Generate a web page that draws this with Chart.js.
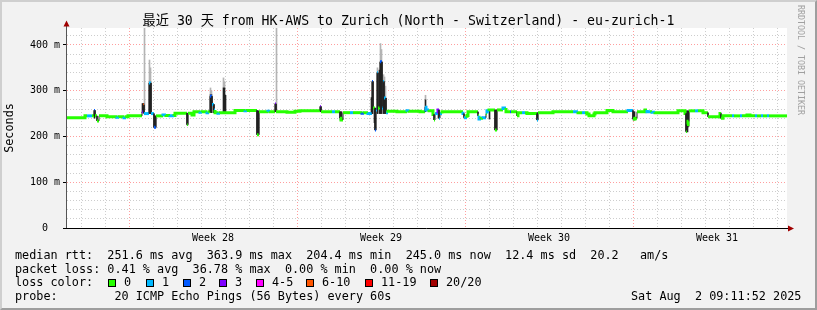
<!DOCTYPE html>
<html>
<head>
<meta charset="utf-8">
<script src="https://cdn.jsdelivr.net/npm/chart.js@4.4.1/dist/chart.umd.min.js"></script>
<style>
  html, body { margin: 0; padding: 0; background: #f2f2f2; }
  #wrap { position: relative; width: 817px; height: 310px; background: #f2f2f2; overflow: hidden;
          font-family: "DejaVu Sans Mono", monospace; color: #000; }
  #wrap canvas { position: absolute; left: 0; top: 0; }
  .frame { position: absolute; left: 0; top: 0; width: 813px; height: 306px; pointer-events: none;
           border-left: 2px solid #cfcfcf; border-top: 2px solid #cfcfcf;
           border-right: 2px solid #9e9e9e; border-bottom: 2px solid #9e9e9e; }
  .title { position: absolute; left: 0; top: 13px; width: 817px; text-align: center; white-space: pre;
           font-size: 13.2px; line-height: 16px; font-family: "DejaVu Sans Mono", "Noto Sans CJK SC", monospace; }
  .row { position: absolute; left: 15px; font-size: 11.8px; line-height: 14px; white-space: pre; }
  .lab { position: absolute; font-size: 11.8px; line-height: 14px; white-space: pre; top: 275px; }
  .box { position: absolute; top: 279px; width: 6px; height: 6px; border: 1px solid #000; }
  .rrd { position: absolute; left: 796px; top: 5px; writing-mode: vertical-rl; font-size: 8.3px;
         color: #a0a0a0; white-space: pre; }
</style>
</head>
<body>
<div id="wrap">
  <canvas id="smokeChart" width="817" height="310"></canvas>
  <div class="title">最近 30 天 from HK-AWS to Zurich (North - Switzerland) - eu-zurich-1</div>
  <div class="rrd">RRDTOOL / TOBI OETIKER</div>
  <div class="row" style="top:248px">median rtt:  251.6 ms avg  363.9 ms max  204.4 ms min  245.0 ms now  12.4 ms sd  20.2   am/s</div>
  <div class="row" style="top:261.5px">packet loss: 0.41 % avg  36.78 % max  0.00 % min  0.00 % now</div>
  <div class="row" style="top:275px">loss color:</div>
  <div id="lossLegend"></div>
  <div class="row" style="top:289px">probe:        20 ICMP Echo Pings (56 Bytes) every 60s</div>
  <div class="row" style="top:289px; left:631px">Sat Aug  2 09:11:52 2025</div>
  <div class="frame"></div>
</div>
<script>
// median rtt, one step per run: start hour, value (ms), loss bucket
const medHour = [0, 18, 20, 25, 27, 28, 30, 32, 40, 50, 52, 57, 59, 61, 75, 76, 77, 82, 84, 87, 89, 96, 99, 103, 107, 108,
  120, 121, 125, 127, 133, 135, 140, 142, 143, 145, 147, 148, 151, 153, 168, 178, 180, 190, 192, 201, 203, 208, 209, 220, 228,
  233, 253, 254, 265, 268, 273, 274, 276, 283, 286, 295, 297, 301, 305, 306, 308, 309, 310, 311, 313, 315, 316, 317, 319, 321,
  330, 340, 342, 353, 358, 359, 362, 366, 367, 368, 371, 372, 373, 375, 396, 397, 400, 401, 411, 412, 414, 416, 419, 420, 422,
  428, 430, 436, 439, 443, 444, 450, 451, 455, 458, 460, 470, 471, 486, 506, 511, 515, 518, 520, 522, 527, 528, 540, 546, 561,
  566, 568, 570, 578, 580, 583, 585, 588, 611, 618, 619, 620, 621, 622, 628, 631, 636, 641, 653, 654, 656, 665, 667, 673, 675,
  680, 683, 688, 690, 694, 696, 700, 702];
const medValue = [241, 245, 245, 245, 257, 245, 234, 245, 243, 242, 243, 241, 243, 245, 254, 269, 250, 317, 250, 220, 245, 247, 246, 245, 246, 251,
  226, 251, 247, 254, 253, 254, 252, 254, 288, 270, 258, 252, 251, 252, 257, 256, 257, 204, 254, 255, 254, 271, 254, 253, 255,
  256, 265, 254, 254, 254, 240, 236, 252, 252, 252, 251, 252, 250, 320, 262, 214, 258, 339, 262, 363, 262, 320, 284, 252, 255,
  254, 256, 255, 254, 264, 258, 256, 248, 236, 250, 258, 240, 250, 254, 250, 241, 246, 254, 245, 238, 240, 241, 250, 256, 258,
  214, 258, 262, 254, 254, 254, 245, 252, 252, 252, 250, 236, 252, 254, 254, 252, 252, 252, 249, 245, 249, 252, 257, 254, 257,
  238, 240, 254, 258, 254, 254, 253, 252, 256, 250, 211, 226, 233, 256, 256, 256, 252, 243, 250, 240, 245, 245, 245, 245, 245,
  247, 245, 245, 245, 245, 245, 245, 245];
const medLoss = [0, 0, 1, 0, 2, 0, 0, 0, 0, 1, 0, 1, 0, 0, 3, 5, 1, 1, 1, 2, 0, 1, 0, 1, 0, 0,
  0, 0, 0, 0, 1, 0, 1, 0, 2, 1, 1, 0, 1, 0, 0, 1, 0, 0, 0, 1, 0, 3, 0, 0, 0,
  0, 3, 0, 1, 0, 0, 0, 0, 1, 0, 2, 0, 1, 2, 0, 2, 1, 1, 0, 2, 1, 1, 1, 1, 0,
  0, 1, 0, 0, 1, 1, 0, 0, 0, 1, 3, 1, 1, 0, 1, 1, 0, 0, 0, 1, 0, 1, 0, 1, 0,
  0, 0, 1, 0, 2, 0, 0, 0, 1, 0, 0, 1, 0, 0, 1, 0, 1, 0, 0, 0, 0, 0, 0, 0, 1,
  0, 0, 0, 0, 1, 0, 1, 0, 0, 0, 0, 0, 0, 0, 1, 0, 0, 0, 0, 0, 0, 1, 0, 1, 0,
  0, 0, 1, 0, 1, 0, 1, 0];

// dark smoke (spread of the pings)
const smokeHour = [27, 75, 76, 82, 83, 87, 88, 120, 143, 144, 146, 156, 157, 158, 190, 191, 208, 253, 273, 274,
  304, 305, 307, 308, 310, 312, 313, 314, 316, 317, 318, 358, 371, 422, 428, 429, 470, 566, 567, 619, 620, 621, 653];
const smokeLow = [240, 252, 252, 250, 250, 219, 219, 225, 252, 252, 252, 250, 250, 252, 204, 204, 254, 254, 236, 236,
  250, 250, 230, 214, 250, 250, 250, 250, 250, 250, 250, 254, 240, 238, 214, 214, 236, 236, 236, 210, 210, 222, 240];
const smokeHigh = [257, 272, 272, 317, 317, 245, 245, 251, 291, 291, 270, 306, 306, 290, 256, 256, 272, 266, 254, 254,
  285, 320, 262, 262, 339, 345, 363, 363, 320, 284, 284, 280, 258, 256, 258, 258, 252, 254, 254, 256, 256, 256, 252];

// light smoke (single high pings)
const hazeHour = [77, 82, 83, 143, 144, 156, 157, 209, 310, 313, 314, 316, 317, 318, 358];
const hazeLow = [258, 317, 317, 291, 291, 306, 306, 256, 339, 363, 363, 320, 284, 284, 280];
const hazeHigh = [437, 367, 350, 306, 300, 328, 320, 437, 350, 403, 390, 335, 330, 310, 290];

const lossNames = ['0', '1', '2', '3', '4-5', '6-10', '11-19', '20/20'];
const lossColors = ['#26ff00', '#00b8ff', '#0059ff', '#7e00ff', '#ff00ff', '#ff5500', '#ff0000', '#a10000'];
const lossBoxX = [108, 146, 183, 219, 256, 306, 365, 430];

const yTicks = [0, 20, 40, 60, 80, 100, 120, 140, 160, 180, 200, 220, 240, 260, 280, 300, 320, 340, 360, 380, 400, 420];
const dayLines = [14, 38, 62, 86, 110, 134, 158, 182, 206, 230, 254, 278, 302, 326, 350, 374, 398, 422, 446, 470,
  494, 518, 542, 566, 590, 614, 638, 662, 686, 710];
const weekLines = [62, 230, 398, 566];
const weekHour = [146, 314, 482, 650];
const weekLabels = ['Week 28', 'Week 29', 'Week 30', 'Week 31'];

// loss legend boxes
const legendEl = document.getElementById('lossLegend');
lossNames.forEach(function(name, i) {
  const b = document.createElement('div');
  b.className = 'box';
  b.style.left = lossBoxX[i] + 'px';
  b.style.background = lossColors[i];
  legendEl.appendChild(b);
  const t = document.createElement('div');
  t.className = 'lab';
  t.style.left = (lossBoxX[i] + 16) + 'px';
  t.textContent = name;
  legendEl.appendChild(t);
});

// median as explicit steps, so vertical jumps can be styled separately
const medPoints = [];
for (let i = 0; i < medHour.length; i++) {
  const end = i + 1 < medHour.length ? medHour[i + 1] : 720;
  medPoints.push({x: medHour[i], y: medValue[i]}, {x: end, y: medValue[i]});
}
function bigJump(i) {
  const run = Math.floor(i / 2);
  return i % 2 === 1 && Math.abs(medValue[run + 1] - medValue[run]) > 8;
}

const mono = 'DejaVu Sans Mono';
const redGrid = 'rgba(255,0,0,0.38)';
const grayGrid = '#cdcdcd';

const frame = {
  id: 'frame',
  beforeDraw(chart) {
    const a = chart.chartArea, c = chart.ctx;
    c.save();
    c.fillStyle = '#ffffff';
    c.fillRect(a.left, a.top, a.right - a.left, a.bottom - a.top);
    c.restore();
  },
  afterDraw(chart) {
    const a = chart.chartArea, c = chart.ctx;
    c.save();
    c.lineWidth = 1;
    c.strokeStyle = '#555';
    c.beginPath(); c.moveTo(66.5, a.bottom); c.lineTo(66.5, 24); c.stroke();
    c.strokeStyle = '#000';
    c.beginPath(); c.moveTo(63, a.bottom + 0.5); c.lineTo(790, a.bottom + 0.5); c.stroke();
    c.fillStyle = '#a00000';
    c.beginPath(); c.moveTo(63.5, 26.5); c.lineTo(69.5, 26.5); c.lineTo(66.5, 20.5); c.closePath(); c.fill();
    c.beginPath(); c.moveTo(788, 225.5); c.lineTo(788, 231.5); c.lineTo(794, 228.5); c.closePath(); c.fill();
    c.restore();
  }
};

new Chart(document.getElementById('smokeChart').getContext('2d'), {
  type: 'line',
  data: {
    datasets: [{
      type: 'line',
      label: 'median',
      data: medPoints,
      borderWidth: 3,
      pointRadius: 0,
      borderCapStyle: 'butt',
      borderJoinStyle: 'miter',
      tension: 0,
      order: 1,
      segment: {
        borderColor: function(ctx) {
          const i = ctx.p0DataIndex;
          const run = Math.floor(i / 2);
          if (i % 2 === 0) return lossColors[medLoss[run]];
          return bigJump(i) ? '#222' : lossColors[medLoss[run + 1]];
        },
        borderWidth: ctx => bigJump(ctx.p0DataIndex) ? 1 : 3
      }
    }, {
      type: 'bar',
      label: 'smoke',
      data: smokeHour.map((h, i) => ({x: h + 0.5, y: [smokeLow[i], smokeHigh[i]]})),
      backgroundColor: '#222',
      barThickness: 1,
      grouped: false,
      order: 2
    }, {
      type: 'bar',
      label: 'haze',
      data: hazeHour.map((h, i) => ({x: h + 0.5, y: [hazeLow[i], hazeHigh[i]]})),
      backgroundColor: '#b4b4b4',
      barThickness: 1,
      grouped: false,
      order: 3
    }]
  },
  options: {
    responsive: false,
    animation: false,
    layout: { autoPadding: false, padding: { left: 0, top: 28, right: 30, bottom: 0 } },
    plugins: { legend: { display: false }, tooltip: { enabled: false } },
    scales: {
      x: {
        type: 'linear', min: 0, max: 720, offset: false,
        afterBuildTicks: s => { s.ticks = dayLines.concat(weekHour).map(v => ({value: v})); },
        afterFit: s => { s.height = 82; },
        grid: {
          offset: false, drawTicks: false, lineWidth: 1,
          color: c => weekLines.includes(c.tick.value) ? redGrid : (weekHour.includes(c.tick.value) ? 'rgba(0,0,0,0)' : grayGrid)
        },
        border: { display: false, dash: [1, 2] },
        ticks: {
          autoSkip: false, maxRotation: 0, padding: 4, color: '#000',
          font: { family: mono, size: 10 },
          callback: v => { const k = weekHour.indexOf(v); return k >= 0 ? weekLabels[k] : ''; }
        }
      },
      y: {
        type: 'linear', min: 0, max: 437,
        afterBuildTicks: s => { s.ticks = yTicks.map(v => ({value: v})); },
        afterFit: s => { s.width = 67; },
        grid: {
          lineWidth: 1, drawTicks: true, tickLength: 4,
          color: c => c.tick.value % 100 === 0 ? redGrid : grayGrid,
          tickColor: c => c.tick.value % 100 === 0 ? '#000' : 'rgba(0,0,0,0)'
        },
        border: { display: false, dash: [1, 2] },
        ticks: {
          autoSkip: false, padding: 3, color: '#000',
          font: { family: mono, size: 10 },
          callback: v => v === 0 ? '0  ' : (v % 100 === 0 ? v + ' m' : '')
        },
        title: {
          display: true, text: 'Seconds', color: '#000',
          font: { family: mono, size: 11.8 }, padding: { top: 3, bottom: 0 }
        }
      }
    }
  },
  plugins: [frame]
});
</script>
</body>
</html>
